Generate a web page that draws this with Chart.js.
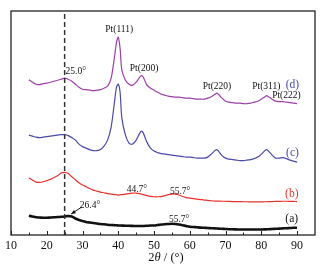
<!DOCTYPE html>
<html>
<head>
<meta charset="utf-8">
<script src="https://cdn.jsdelivr.net/npm/chart.js@4/dist/chart.umd.min.js"></script>
<style>
  html, body { margin: 0; padding: 0; background: #fff; }
  #wrap { width: 324px; height: 267px; }
</style>
</head>
<body>
<div id="wrap"><canvas id="xrd"></canvas></div>
<script>
// 2theta (degrees)
const angles = [15,16,17,18,19,20,21,22,23,24,25,26,27,28,29,30,31,32,33,34,35,36,37,38,39,39.5,40,40.5,41,42,43,44,45,46,46.5,47,48,49,50,51,52,53,54,55,56,57,58,59,60,61,62,63,64,65,66,67,67.5,68,69,70,71,72,73,74,75,76,77,78,79,80,81,81.5,82,83,84,85,86,87,88,89,90];

// intensities (a.u., curves already offset as in the figure)
const curveD = [155.5,153,151,150.5,151.5,152,153,154,155,156,157,156,154,151,148,146,145.5,145,144.5,145,145.5,147,149,157,180,193,198,187,165,155,151,150,153,158,159.5,158,150,147,145,143,141,140,139,138.5,138,138,137.5,137,137,136.5,136,136,136,137,138.5,141,142,141,137,134,133,132.5,132,132,131.5,131.5,132,133,134,136,138.5,139.5,138.5,136,134,133.5,133.5,133,132.5,132,131.5];
const curveC = [100,99,98,97.5,98,98.5,99,99.5,100,100.5,100.5,99.5,97.5,95,91,88.5,87,85.5,84.5,84.5,85.5,89,95,108,135,148,151,143,117,100,92,91,95,102,104,102,93,87,84,82.5,81.5,81,80.5,80,79.5,79,78.5,78,78,77.5,77,77,77,78,81,84.5,85.5,84,79.5,77,76,75.5,75,74.5,74.5,75,75.5,76.5,78,81,84.5,85.5,84,80,77,77,77.5,76.5,75,74,73];
const curveB = [57.3,55,53,52.7,53.3,54.5,55.7,57.5,59.3,62,62.7,61.5,58.3,55.3,52.3,50,48.3,46.5,45,44,43,42.3,41.5,41,40.5,40.3,40,40.2,40.5,41,41.5,42,42,41.5,41,40.5,39.5,38.7,38.3,38.3,38.5,39.5,40.5,41,41,40,38.5,37.5,37,36.5,36,35.5,35,34.7,34.3,34,34,34,33.8,33.8,33.6,33.5,33.5,33.4,33.3,33.3,33.2,33.2,33.2,33.2,33.3,33.3,33.4,33.5,33.6,33.7,33.8,33.8,33.7,33.6,33.5];
const curveA = [19.3,18.5,17.7,17.5,17.3,17.3,17.5,17.7,18,18.2,18.5,19,18.5,16.5,15,14,13,12.5,12,11.5,11,10.7,10.3,10,9.8,9.7,9.5,9.5,9.4,9.3,9.2,9.1,9,9,9,9,9.2,9.5,9.5,10,10.5,10.8,11,11.2,11,10.5,9.8,9,8.3,8,7.7,7.4,7.2,7,6.8,6.6,6.5,6.4,6.2,6,5.8,5.7,5.6,5.5,5.5,5.5,5.5,5.5,5.5,5.5,5.6,5.7,5.8,6,6.2,6.4,6.6,6.8,7,7.2,7.3];

const xTicks = [10,20,30,40,50,60,70,80,90];
const xMinorTicks = [15,25,35,45,55,65,75,85];
const dashAt = 25.0;

// text labels: [text, 2theta, intensity, colour, size]
const notes = [
  ['Pt(111)', 40.25, 205.7, '#111', 9.5],
  ['Pt(200)', 47.2, 166.7, '#111', 9.5],
  ['Pt(220)', 67.6, 148.3, '#111', 9.5],
  ['Pt(311)', 81.4, 148.3, '#111', 9.5],
  ['Pt(222)', 87.0, 139.3, '#111', 9.5],
  ['25.0°', 28.1, 163.3, '#111', 9.5],
  ['44.7°', 45.2, 45.7, '#111', 9.5],
  ['55.7°', 57.3, 44, '#111', 9.5],
  ['55.7°', 57.0, 16, '#111', 9.5],
  ['26.4°', 32.1, 30, '#111', 9.5],
  ['(d)', 88.7, 150, '#4a4aa8', 11.5],
  ['(c)', 88.7, 82.3, '#4a4aa8', 11.5],
  ['(b)', 88.5, 41, '#e8302a', 11.5],
  ['(a)', 88.5, 15.7, '#111', 11.5]
];
const arrowFrom = [29.8, 28];
const arrowTo = [26.8, 21];

const serif = '"Liberation Serif", "Times New Roman", serif';

const extras = {
  id: 'extras',
  afterDatasetsDraw(chart) {
    const ctx = chart.ctx, a = chart.chartArea;
    const xs = chart.scales.x, ys = chart.scales.y;
    ctx.save();
    // dashed line at 25 deg
    ctx.strokeStyle = '#333';
    ctx.lineWidth = 1.5;
    ctx.setLineDash([5, 3]);
    ctx.beginPath();
    ctx.moveTo(xs.getPixelForValue(dashAt), a.top + 3);
    ctx.lineTo(xs.getPixelForValue(dashAt), a.bottom);
    ctx.stroke();
    ctx.setLineDash([]);

    // frame
    ctx.strokeStyle = '#222';
    ctx.lineWidth = 1.3;
    ctx.strokeRect(a.left, a.top, a.right - a.left, a.bottom - a.top);

    // ticks inward
    ctx.lineWidth = 1;
    xTicks.forEach(v => {
      const px = Math.round(xs.getPixelForValue(v)) + 0.5;
      ctx.beginPath(); ctx.moveTo(px, a.bottom); ctx.lineTo(px, a.bottom - 4); ctx.stroke();
    });
    xMinorTicks.forEach(v => {
      const px = Math.round(xs.getPixelForValue(v)) + 0.5;
      ctx.beginPath(); ctx.moveTo(px, a.bottom); ctx.lineTo(px, a.bottom - 2.5); ctx.stroke();
    });

    // arrow for 26.4
    const x1 = xs.getPixelForValue(arrowFrom[0]), y1 = ys.getPixelForValue(arrowFrom[1]);
    const x2 = xs.getPixelForValue(arrowTo[0]), y2 = ys.getPixelForValue(arrowTo[1]);
    ctx.strokeStyle = '#111';
    ctx.fillStyle = '#111';
    ctx.beginPath(); ctx.moveTo(x1, y1); ctx.lineTo(x2, y2); ctx.stroke();
    const ang = Math.atan2(y2 - y1, x2 - x1);
    ctx.beginPath();
    ctx.moveTo(x2, y2);
    ctx.lineTo(x2 - 5 * Math.cos(ang - 0.4), y2 - 5 * Math.sin(ang - 0.4));
    ctx.lineTo(x2 - 5 * Math.cos(ang + 0.4), y2 - 5 * Math.sin(ang + 0.4));
    ctx.closePath(); ctx.fill();

    // notes
    ctx.textAlign = 'center';
    ctx.textBaseline = 'middle';
    notes.forEach(n => {
      ctx.font = n[4] + 'px ' + serif;
      ctx.fillStyle = n[3];
      ctx.fillText(n[0], xs.getPixelForValue(n[1]), ys.getPixelForValue(n[2]));
    });

    // axis title 2θ / (°)
    ctx.fillStyle = '#111';
    ctx.textAlign = 'left';
    ctx.textBaseline = 'alphabetic';
    const parts = [['2', ''], ['θ', 'italic '], [' / (°)', '']];
    let w = 0;
    parts.forEach(p => { ctx.font = p[1] + '12.5px ' + serif; w += ctx.measureText(p[0]).width; });
    let cx = 166 - w / 2;
    parts.forEach(p => {
      ctx.font = p[1] + '12.5px ' + serif;
      ctx.fillText(p[0], cx, 261);
      cx += ctx.measureText(p[0]).width;
    });
    ctx.restore();
  }
};

function series(vals, color, width) {
  return {
    data: angles.map((t, i) => ({ x: t, y: vals[i] })),
    borderColor: color,
    borderWidth: width,
    pointRadius: 0,
    tension: 0.3,
    fill: false
  };
}

new Chart(document.getElementById('xrd'), {
  type: 'line',
  data: {
    datasets: [
      series(curveA, '#111', 2.6),
      series(curveB, '#e8302a', 1.2),
      series(curveC, '#4a4aa8', 1.2),
      series(curveD, '#9c3fa8', 1.2)
    ]
  },
  options: {
    responsive: true,
    maintainAspectRatio: false,
    animation: false,
    layout: { padding: { left: 11, right: 9, top: 11, bottom: 0 } },
    plugins: { legend: { display: false }, tooltip: { enabled: false } },
    scales: {
      x: {
        type: 'linear',
        min: 10, max: 95,
        grid: { display: false, drawTicks: false },
        border: { display: false },
        afterBuildTicks: s => { s.ticks = xTicks.map(v => ({ value: v })); },
        afterFit: s => { s.height = 32; },
        ticks: {
          color: '#111',
          font: { family: serif, size: 12 },
          padding: 4,
          maxRotation: 0,
          autoSkip: false
        }
      },
      y: {
        display: false,
        min: 0, max: 224.3
      }
    }
  },
  plugins: [extras]
});
</script>
</body>
</html>
